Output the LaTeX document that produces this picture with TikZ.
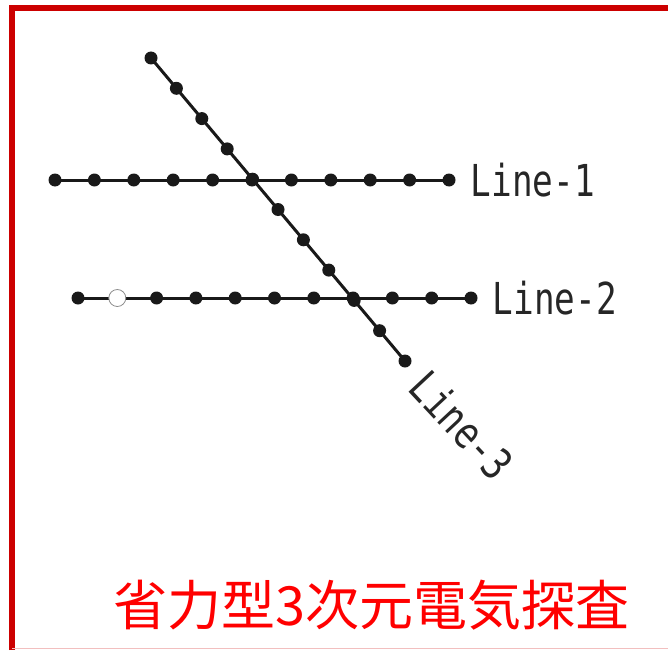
\documentclass[tikz,border=0pt]{standalone}
\usepackage{fontspec}
\newfontfamily\jpfont{Noto Sans CJK JP}
\newfontfamily\lblfont{DejaVu Sans Mono}
\usepackage{xcolor}
\usetikzlibrary{positioning,backgrounds,calc}
\definecolor{framered}{RGB}{204,0,0}
\definecolor{titlered}{RGB}{255,0,0}
\tikzset{
  pt/.style     = {circle, fill=black!90, inner sep=0pt, minimum size=13pt},
  openpt/.style = {circle, fill=white, draw=black!45, line width=0.8pt,
                   inner sep=0pt, minimum size=17pt},
  survey/.style = {line width=3pt, draw=black!90},
  lbl/.style    = {font=\lblfont\fontsize{44}{44}\selectfont, inner sep=0pt,
                   text=black!85},
  ttl/.style    = {font=\jpfont\fontsize{54}{54}\selectfont, text=titlered,
                   inner sep=0pt},
  frm/.style    = {draw=framered, line width=6pt}
}

\begin{document}
\begin{tikzpicture}[x=1pt, y=-1pt]
    \useasboundingbox (0,0) rectangle (668,650);

    % ---- Frame ----
    \draw[frm] (12,650) -- (12,8.5) -- (668,8.5);
    \draw[draw=framered!25, line width=1pt] (12,648.5) -- (668,648.5);

    % ---- Survey points ----
    \foreach \i in {1,...,11}
      \node[pt] (a\i) at ({55+39.4*(\i-1)},180) {};
    \node[openpt] (b2) at (117.3,298) {};
    \foreach \i in {1,3,4,...,11}
      \node[pt] (b\i) at ({78+39.3*(\i-1)},298) {};
    \foreach \i in {1,...,11}
      \node[pt] (c\i) at ({151+25.4*(\i-1)},{58+30.3*(\i-1)}) {};

    % ---- Survey lines ----
    \begin{scope}[on background layer]
      \draw[survey] (a1.center) -- (a11.center);
      \draw[survey] (b1.center) -- (b11.center);
      \draw[survey] (c1.center) -- (c11.center);
    \end{scope}

    % ---- Labels ----
    \node[lbl, right=15pt of a11] (l1) {\scalebox{0.78}[1]{Line-1}};
    \node[lbl, right=15pt of b11] (l2) {\scalebox{0.78}[1]{Line-2}};
    \node[lbl, rotate=-47] (l3) at ($(c11)+(57,64)$) {\scalebox{0.8}[1]{Line-3}};

    \node[ttl] (title) at (371.5,605) {省力型3次元電気探査};
  \end{tikzpicture}
\end{document}
